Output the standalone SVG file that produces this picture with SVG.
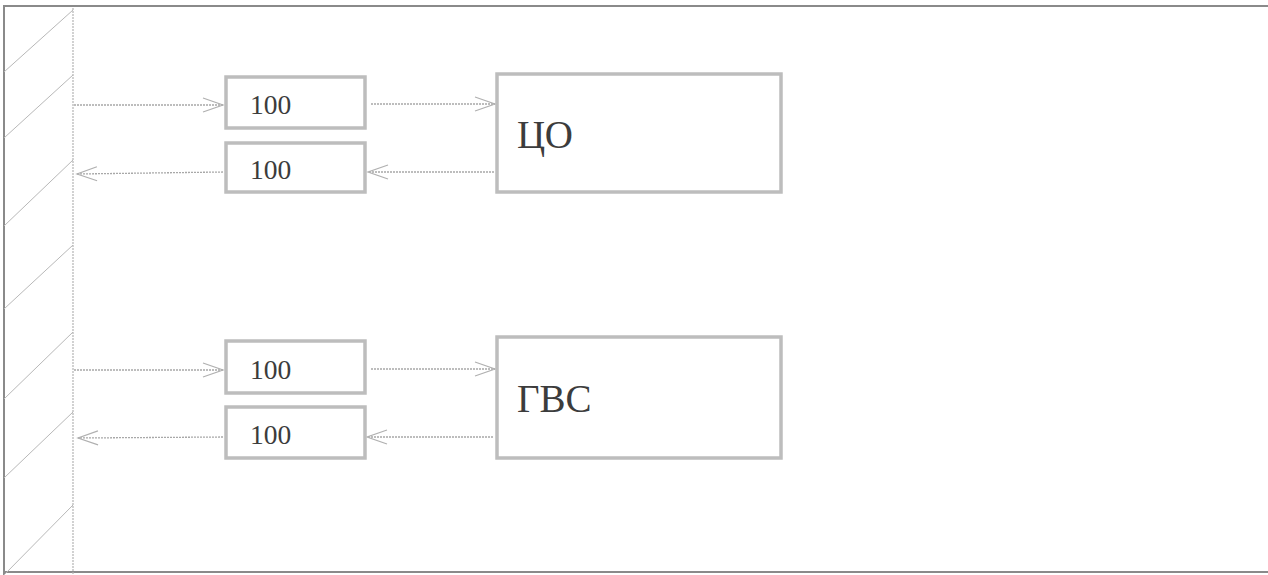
<svg xmlns="http://www.w3.org/2000/svg" width="1268" height="575" viewBox="0 0 1268 575">
<defs>
<style>
.frame{stroke:#8a8a8a;stroke-width:2;fill:none}
.wall{stroke:#b4b4b4;stroke-width:1.2;fill:none;stroke-dasharray:2 1}
.hatch{stroke:#b8b8b8;stroke-width:1;fill:none}
.box{fill:#fff;stroke:#bdbdbd;stroke-width:3.5}
.conn{stroke:#a8a8a8;stroke-width:1.3;fill:none;stroke-dasharray:2 1}
.lbl{font-family:"Liberation Serif",serif;fill:#3c3c3c}
.small{font-size:27.5px}
.big{font-size:39px}
</style>
<marker id="arr" markerWidth="24" markerHeight="16" refX="22" refY="8" orient="auto" markerUnits="userSpaceOnUse">
<path d="M2,1 L22,8 L2,15" fill="none" stroke="#b0b0b0" stroke-width="1.2"/>
</marker>
</defs>
<rect width="1268" height="575" fill="#fff"/>
<g id="frame">
<path class="frame" d="M1268,6 L4,6 L4,575"/>
<path class="frame" d="M4,572 L1268,572"/>
<line class="wall" x1="73" y1="8" x2="73" y2="575"/>
<path class="hatch" d="M73,10 L4,72 M73,75 L4,138 M73,160 L4,226 M73,245 L4,309 M73,332 L4,399 M73,412 L4,478 M73,505 L4,575"/>
</g>
<g id="connectors">
<line class="conn" x1="74" y1="105" x2="223" y2="105" marker-end="url(#arr)"/>
<line class="conn" x1="371" y1="104" x2="495" y2="104" marker-end="url(#arr)"/>
<line class="conn" x1="494" y1="172" x2="368" y2="172" marker-end="url(#arr)"/>
<line class="conn" x1="223" y1="172" x2="77" y2="174" marker-end="url(#arr)"/>
<line class="conn" x1="74" y1="370" x2="223" y2="370" marker-end="url(#arr)"/>
<line class="conn" x1="371" y1="369" x2="495" y2="369" marker-end="url(#arr)"/>
<line class="conn" x1="493" y1="437" x2="367" y2="437" marker-end="url(#arr)"/>
<line class="conn" x1="223" y1="437" x2="78" y2="438" marker-end="url(#arr)"/>
</g>
<g id="n1">
<rect class="box" x="226" y="77" width="139" height="51"/>
<text class="lbl small" x="250" y="114">100</text>
</g>
<g id="n2">
<rect class="box" x="226" y="143" width="139" height="49"/>
<text class="lbl small" x="250" y="179">100</text>
</g>
<g id="co">
<rect class="box" x="497" y="74" width="284" height="118"/>
<text class="lbl big" x="517" y="148">ЦО</text>
</g>
<g id="n3">
<rect class="box" x="226" y="341" width="139" height="52"/>
<text class="lbl small" x="250" y="379">100</text>
</g>
<g id="n4">
<rect class="box" x="226" y="407" width="139" height="51"/>
<text class="lbl small" x="250" y="444">100</text>
</g>
<g id="gvs">
<rect class="box" x="497" y="337" width="284" height="121"/>
<text class="lbl big" x="517" y="412">ГВС</text>
</g>
</svg>
